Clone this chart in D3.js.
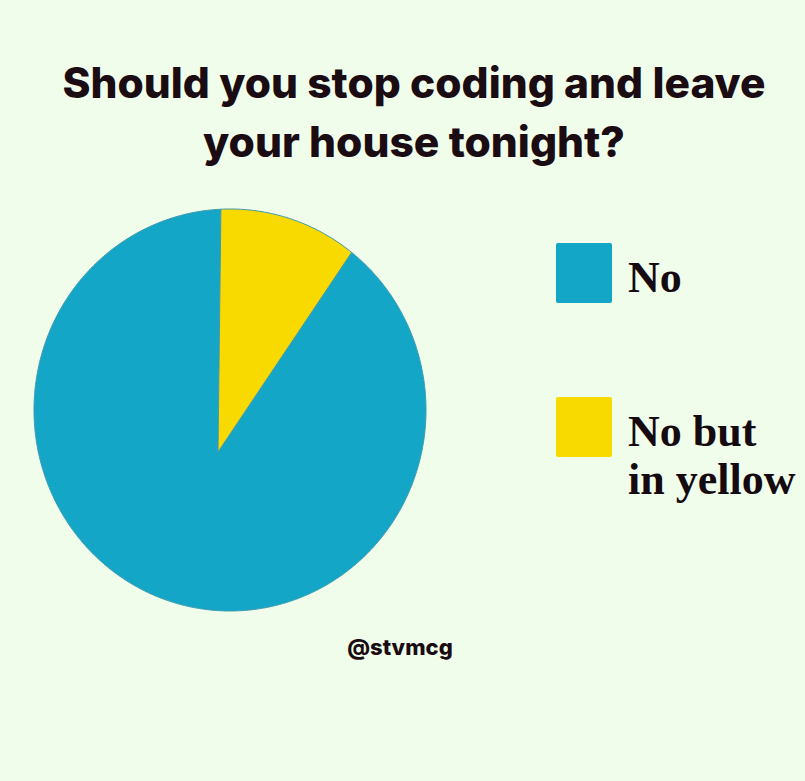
<!DOCTYPE html>
<html>
<head>
<meta charset="utf-8">
<script src="https://cdn.jsdelivr.net/npm/d3@7"></script>
<style>
  body { margin: 0; background: #effdea; }
  svg { display: block; }
</style>
</head>
<body>
<div id="chart"></div>
<script>
// data
var labels = ["No", "No but in yellow"];
var values = [90.8, 9.2];
var colors = ["#14a6c7", "#f8d900"];
var titleLines = ["Should you stop coding and leave", "your house tonight?"];
var titleWidths = [703, 422];
var legendLines = [["No"], ["No but", "in yellow"]];
var credit = "@stvmcg";

var width = 805, height = 781;

var svg = d3.select("#chart")
  .append("svg")
  .attr("width", width)
  .attr("height", height);

svg.append("rect")
  .attr("width", width)
  .attr("height", height)
  .style("fill", "#effdea");

// title
svg.append("g")
  .attr("class", "title")
  .selectAll("text")
  .data(titleLines)
  .enter()
  .append("text")
  .attr("x", 414)
  .attr("y", function (d, i) { return 98 + i * 59; })
  .attr("textLength", function (d, i) { return titleWidths[i]; })
  .attr("lengthAdjust", "spacingAndGlyphs")
  .style("text-anchor", "middle")
  .style("font-family", "Inter, Roboto, sans-serif")
  .style("font-weight", 800)
  .style("font-size", "42px")
  .style("fill", "#1a0c12")
  .text(function (d) { return d; });

// pie: the outline is a slightly squashed circle and the wedges meet
// below its centre, like in the original picture
var ell = {cx: 230, cy: 410, rx: 196, ry: 201};
var apex = [218, 452];

var pie = d3.pie().sort(null).startAngle(0.012).endAngle(0.012 + 2 * Math.PI);
var arcs = pie(values);
// yellow wedge goes first clockwise from the top
arcs = d3.pie().sort(null)
  .startAngle(0.012 - (arcs[0].endAngle - arcs[0].startAngle))
  .endAngle(0.012 + 2 * Math.PI - (arcs[0].endAngle - arcs[0].startAngle))(values);

function hitEllipse(a) {
  var dx = Math.sin(a), dy = -Math.cos(a);
  var ox = (apex[0] - ell.cx) / ell.rx, oy = (apex[1] - ell.cy) / ell.ry;
  var ux = dx / ell.rx, uy = dy / ell.ry;
  var A = ux * ux + uy * uy, B = 2 * (ox * ux + oy * uy), C = ox * ox + oy * oy - 1;
  var t = (-B + Math.sqrt(B * B - 4 * A * C)) / (2 * A);
  return [apex[0] + t * dx, apex[1] + t * dy];
}

function slicePoints(d) {
  var pts = [apex];
  var n = Math.max(4, Math.ceil((d.endAngle - d.startAngle) / 0.01));
  var sc = d3.scaleLinear().domain([0, n]).range([d.startAngle, d.endAngle]);
  d3.range(n + 1).forEach(function (k) { pts.push(hitEllipse(sc(k))); });
  pts.push(apex);
  return pts;
}

var lineGenerator = d3.line();

svg.append("g")
  .attr("class", "pie")
  .selectAll("path")
  .data(arcs)
  .enter()
  .append("path")
  .attr("d", function (d) { return lineGenerator(slicePoints(d)) + "Z"; })
  .style("fill", function (d, i) { return colors[i]; })
  .style("stroke", "#3f9ab0")
  .style("stroke-width", 1)
  .style("stroke-linejoin", "round");

// legend
var legend = svg.append("g")
  .attr("class", "legend")
  .selectAll("g")
  .data(labels)
  .enter()
  .append("g")
  .attr("transform", function (d, i) { return "translate(0," + (i * 154) + ")"; });

legend.append("rect")
  .attr("x", 556)
  .attr("y", 243)
  .attr("width", 56)
  .attr("height", 60)
  .attr("rx", 2)
  .style("fill", function (d, i) { return colors[i]; });

legend.append("text")
  .attr("y", 292)
  .style("font-family", "'Liberation Serif', 'Times New Roman', serif")
  .style("font-weight", "bold")
  .style("font-size", "44px")
  .style("fill", "#150a10")
  .selectAll("tspan")
  .data(function (d, i) { return legendLines[i]; })
  .enter()
  .append("tspan")
  .attr("x", 628)
  .attr("dy", function (d, j) { return j === 0 ? 0 : 48; })
  .text(function (d) { return d; });

// credit
svg.append("text")
  .attr("x", 400)
  .attr("y", 655)
  .style("text-anchor", "middle")
  .style("font-family", "Inter, Roboto, sans-serif")
  .style("font-weight", 800)
  .style("font-size", "22px")
  .style("fill", "#1a0c12")
  .text(credit);
</script>
</body>
</html>
